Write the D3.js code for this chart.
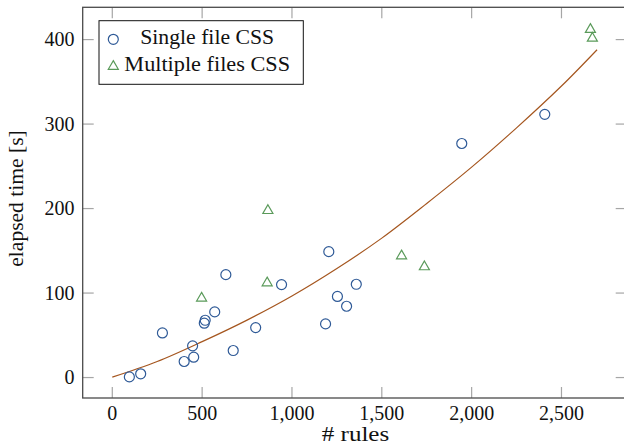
<!DOCTYPE html>
<html>
<head>
<meta charset="utf-8">
<script src="https://cdn.jsdelivr.net/npm/d3@7"></script>
<style>
  html, body { margin: 0; padding: 0; background: #fff; }
  svg { display: block; }
</style>
</head>
<body>
<svg id="chart" width="624" height="446" font-family="'Liberation Serif', 'Times New Roman', Tinos, 'DejaVu Serif', serif"></svg>
<script>
// ---- data ----
const singleRules = [95, 158, 279, 400, 447, 453, 512, 517, 570, 632, 673, 798, 942, 1187, 1205, 1253, 1304, 1358, 1945, 2407];
const singleTime  = [0.8, 4.4, 52.8, 19, 37.5, 24.1, 64.3, 67.8, 77.7, 121.8, 32, 59.1, 110, 63.5, 149, 96, 84.4, 110.4, 277, 311.5];
const multiRules  = [497, 862, 866, 1610, 1737, 2661, 2672];
const multiTime   = [94, 112, 197.6, 144, 131, 412, 401.5];
// trend curve
const trendRules = [0, 250, 500, 750, 1000, 1250, 1500, 1750, 2000, 2250, 2500, 2698];
const trendTime  = [0.5, 19, 42.5, 68, 96.5, 129, 165, 206, 249, 295.5, 345, 388];
const xTicks = [0, 500, 1000, 1500, 2000, 2500];
const yTicks = [0, 100, 200, 300, 400];
const legendLabels = ["Single file CSS", "Multiple files CSS"];
const xLabel = "# rules";
const yLabel = "elapsed time [s]";

// ---- layout ----
const L = 82.7, R = 626.7, T = 7.3, B = 398;
const x = d3.scaleLinear().domain([-164.7, 2863]).range([L, R]);
const y = d3.scaleLinear().domain([-24.2, 438.2]).range([B, T]);

const svg = d3.select("#chart");
const FONT = "'Liberation Serif', 'Times New Roman', Tinos, 'DejaVu Serif', serif";
const blue = "#2f5a97", green = "#5a9a5a", brown = "#a5561f";
const tickLen = 11;

// ticks (inside, all four sides)
const tg = svg.append("g").attr("stroke", "#a6a6a6").attr("stroke-width", 1.2);
xTicks.forEach(v => {
  tg.append("line").attr("x1", x(v)).attr("x2", x(v)).attr("y1", B).attr("y2", B - tickLen);
  tg.append("line").attr("x1", x(v)).attr("x2", x(v)).attr("y1", T).attr("y2", T + tickLen);
});
yTicks.forEach(v => {
  tg.append("line").attr("y1", y(v)).attr("y2", y(v)).attr("x1", L).attr("x2", L + tickLen);
  tg.append("line").attr("y1", y(v)).attr("y2", y(v)).attr("x1", R).attr("x2", R - tickLen);
});

// tick labels
const fmt = d3.format(",");
svg.append("g").selectAll("text").data(xTicks).join("text")
  .attr("font-family", FONT).attr("fill", "#111")
  .attr("x", d => x(d)).attr("y", 419.5)
  .attr("text-anchor", "middle").attr("font-size", 20)
  .text(d => fmt(d));
svg.append("g").selectAll("text").data(yTicks).join("text")
  .attr("font-family", FONT).attr("fill", "#111")
  .attr("x", 74.5).attr("y", d => y(d) + 6.5)
  .attr("text-anchor", "end").attr("font-size", 20)
  .text(d => fmt(d));

// axis labels
svg.append("text").attr("font-family", FONT).attr("fill", "#111")
  .attr("x", 355.5).attr("y", 440.5).attr("text-anchor", "middle")
  .attr("font-size", 21).attr("textLength", 67.5).attr("lengthAdjust", "spacingAndGlyphs")
  .text(xLabel);
svg.append("text").attr("font-family", FONT).attr("fill", "#111")
  .attr("transform", "translate(22.5,198.5) rotate(-90)")
  .attr("text-anchor", "middle").attr("font-size", 21)
  .attr("textLength", 136.5).attr("lengthAdjust", "spacingAndGlyphs")
  .text(yLabel);

// trend curve
const trend = trendRules.map((r, i) => [r, trendTime[i]]);
svg.append("path").datum(trend)
  .attr("fill", "none").attr("stroke", brown).attr("stroke-width", 1.2)
  .attr("d", d3.line().x(d => x(d[0])).y(d => y(d[1])).curve(d3.curveCatmullRom));

// markers
const triR = 5.8;
const triPath = `M0,${-triR} L${0.866 * triR},${0.5 * triR} L${-0.866 * triR},${0.5 * triR} Z`;
svg.append("g").selectAll("circle").data(singleRules.map((r, i) => [r, singleTime[i]])).join("circle")
  .attr("cx", d => x(d[0])).attr("cy", d => y(d[1])).attr("r", 5)
  .attr("fill", "none").attr("stroke", blue).attr("stroke-width", 1.2);
svg.append("g").selectAll("path").data(multiRules.map((r, i) => [r, multiTime[i]])).join("path")
  .attr("transform", d => `translate(${x(d[0])},${y(d[1])})`)
  .attr("d", triPath)
  .attr("fill", "none").attr("stroke", green).attr("stroke-width", 1.2);

// axis box
svg.append("rect").attr("x", L).attr("y", T).attr("width", R - L).attr("height", B - T)
  .attr("fill", "none").attr("stroke", "#4a4a4a").attr("stroke-width", 1.3);

// legend
const lg = svg.append("g");
lg.append("rect").attr("x", 99).attr("y", 20.7).attr("width", 204.3).attr("height", 63.6)
  .attr("fill", "#fff").attr("stroke", "#111").attr("stroke-width", 1);
lg.append("circle").attr("cx", 113.3).attr("cy", 39.3).attr("r", 5)
  .attr("fill", "none").attr("stroke", blue).attr("stroke-width", 1.2);
lg.append("path").attr("transform", "translate(113.3,66.4)").attr("d", triPath)
  .attr("fill", "none").attr("stroke", green).attr("stroke-width", 1.2);
const legendW = [134, 165.7];
const legendY = [44.3, 71.2];
legendLabels.forEach((t, i) => {
  lg.append("text").attr("font-family", FONT).attr("fill", "#111")
    .attr("x", 207.2).attr("y", legendY[i]).attr("text-anchor", "middle")
    .attr("font-size", 21).attr("textLength", legendW[i]).attr("lengthAdjust", "spacingAndGlyphs")
    .text(t);
});
</script>
</body>
</html>
